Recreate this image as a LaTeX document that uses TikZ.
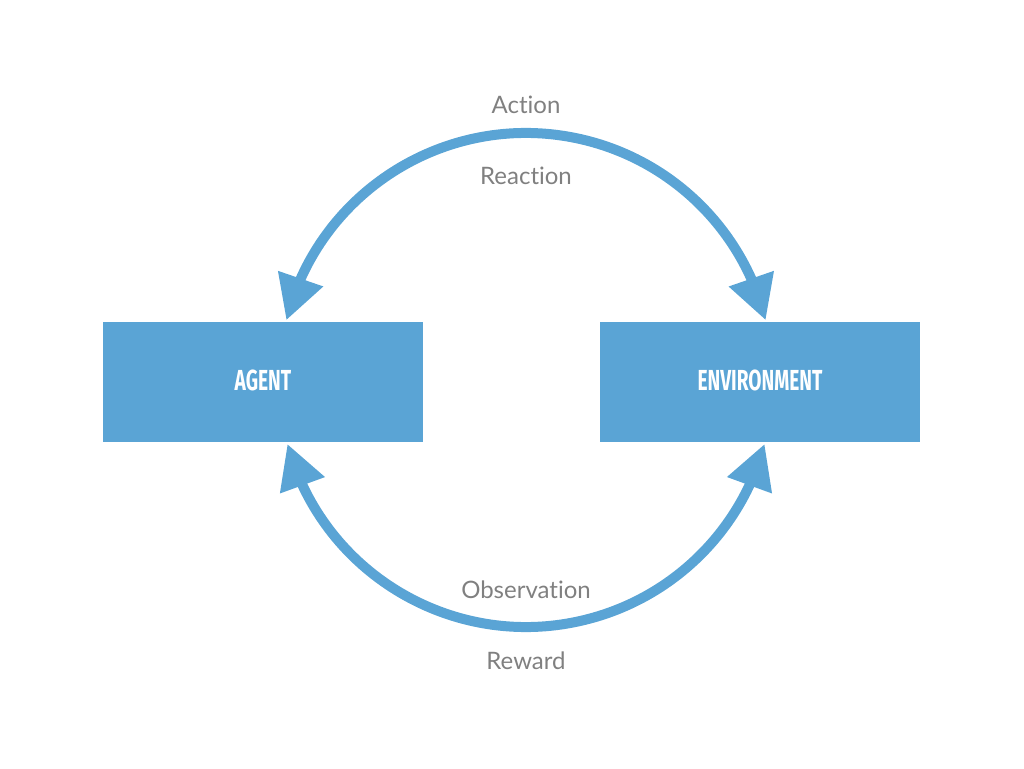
\documentclass[tikz,border=0pt]{standalone}
\usepackage{fontspec}
\setmainfont{Lato}[Ligatures=NoCommon]
\newfontfamily\condfont[FakeStretch=0.66]{Fira Sans}
\usepackage{tikz}
\usetikzlibrary{arrows.meta,bending,positioning,calc}
\definecolor{Loop}{HTML}{5AA4D5}
\definecolor{Caption}{HTML}{808080}
\tikzset{
  box/.style={draw=none,fill=Loop,minimum width=160pt,minimum height=60pt,inner sep=0pt,
    text=white,font=\condfont\bfseries\fontsize{14.5}{16}\selectfont},
  flow/.style={{Triangle[flex,length=22pt,width=22.5pt]}-{Triangle[flex,length=22pt,width=22.5pt]},
    draw=Loop,line width=5pt},
  caption/.style={text=Caption,font=\fontsize{12}{14}\selectfont,inner sep=0pt}
}
\begin{document}
\begin{tikzpicture}[x=0.5pt,y=0.5pt]
  \useasboundingbox (0,0) rectangle (1024,768);
  \node[box] (agent) at (263,386) {\raisebox{2pt}{AGENT}};
  \node[box] (env) at (760,386) {\raisebox{2pt}{ENVIRONMENT}};
  \coordinate (hub) at (526,388);
  \coordinate (act) at ($(hub)+(166:247)$);
  \coordinate (obs) at ($(hub)+(195:247)$);
  \draw[flow] (act) arc[start angle=166,end angle=14,radius=247];
  \draw[flow] (obs) arc[start angle=195,end angle=345,radius=247];
  \node[caption] (action) at (526,663) {Action};
  \node[caption] (reaction) at (526,592) {Reaction};
  \node[caption] (observation) at (526,178) {Observation};
  \node[caption] (reward) at (526,107) {Reward};
\end{tikzpicture}
\end{document}
